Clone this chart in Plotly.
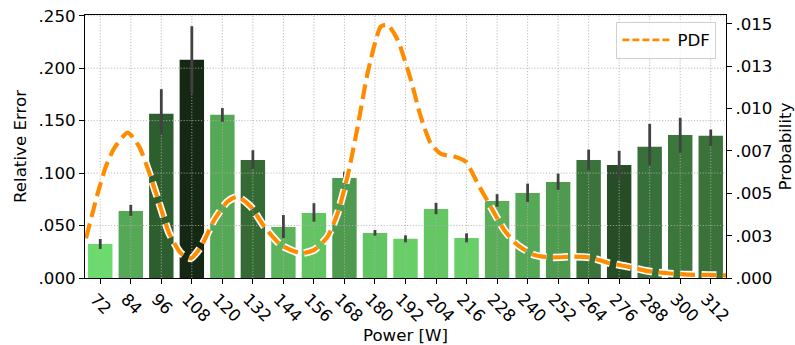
import plotly.graph_objects as go

# ---------------- data ----------------
POWER = [72, 84, 96, 108, 120, 132, 144, 156, 168, 180, 192, 204, 216, 228, 240, 252, 264, 276, 288, 300, 312]
TICK_LABELS = [str(p) for p in POWER]
REL_ERR = [0.0324, 0.0639, 0.1565, 0.2080, 0.1555, 0.1126, 0.0487, 0.0620, 0.0954, 0.0429, 0.0375,
           0.0658, 0.0382, 0.0735, 0.0811, 0.0916, 0.1126, 0.1078, 0.1250, 0.1364, 0.1355]
CI_HIGH = [0.0372, 0.0697, 0.1800, 0.2400, 0.1620, 0.1218, 0.0600, 0.0713, 0.1014, 0.0458, 0.0407,
           0.0716, 0.0426, 0.0799, 0.0900, 0.0995, 0.1224, 0.1212, 0.1469, 0.1527, 0.1415]
CI_LOW = [0.0277, 0.0592, 0.1365, 0.1756, 0.1490, 0.1040, 0.0380, 0.0537, 0.0935, 0.0404, 0.0340,
          0.0608, 0.0340, 0.0680, 0.0725, 0.0840, 0.1024, 0.0942, 0.1075, 0.1193, 0.1257]
BAR_COLORS = ["#6dda6d", "#55a855", "#2d5e2d", "#142814", "#55a855", "#356a35", "#5cb55c", "#63c463",
              "#4e9a4e", "#63c463", "#68cf68", "#64c764", "#68cf68", "#5aae5a", "#55a855", "#4e9a4e",
              "#3a743a", "#264d26", "#37703a", "#3b763b", "#3a723a"]

PDF_X = [66.4, 71, 74.2, 77.5, 82.8, 87.3, 91.3, 95.2, 99.1, 103.7, 107.6, 111.6, 116.8, 122, 126,
         131.2, 136.5, 143, 150.9, 156.1, 161.4, 165.3, 169.2, 173.2, 177.1, 182.3, 185, 188.9,
         194.1, 198, 201.9, 205.9, 211.1, 215.7, 220.3, 225.5, 230.8, 236, 242.6, 249.1, 258.3,
         264.9, 271.5, 279.3, 287.2, 295, 302.9, 310.8, 318]
PDF_Y = [0.00235, 0.0050, 0.00658, 0.00767, 0.00859, 0.00776, 0.00619, 0.00441, 0.00264, 0.00146,
         0.00116, 0.00185, 0.00343, 0.00451, 0.0048, 0.00421, 0.00303, 0.00195, 0.00146, 0.00166,
         0.00244, 0.00382, 0.00599, 0.00894, 0.0121, 0.01485, 0.01495, 0.01407, 0.0117, 0.00953,
         0.00796, 0.00733, 0.00717, 0.00687, 0.0056, 0.00421, 0.00284, 0.00195, 0.00136, 0.00122,
         0.00126, 0.0012, 0.0009, 0.00067, 0.00041, 0.00028, 0.0002, 0.00018, 0.00016]

LEFT_TICKS = [0, 0.05, 0.10, 0.15, 0.20, 0.25]
LEFT_LABELS = [".000", ".050", ".100", ".150", ".200", ".250"]
RIGHT_TICKS = [0, 0.0025, 0.005, 0.0075, 0.01, 0.0125, 0.015]
RIGHT_LABELS = [".000", ".003", ".005", ".007", ".010", ".013", ".015"]

# ---------------- style ----------------
X_RANGE = [66, 318]
Y_RANGE = [0, 0.2507]
Y2_RANGE = [0, 0.01553]
FS = 16.67
FONT = "DejaVu Sans"
ORANGE = "#ff8c00"

fig = go.Figure()

# bars
fig.add_trace(go.Bar(
    x=POWER, y=REL_ERR, width=9.6,
    marker=dict(color=BAR_COLORS, line=dict(width=0)),
    showlegend=False, hoverinfo="skip",
))

# grid lines (above bars, below error bars and PDF curve)
gx, gy = [], []
for p in POWER:
    gx += [p, p, None]
    gy += [Y_RANGE[0], Y_RANGE[1], None]
for t in LEFT_TICKS[1:]:
    gx += [X_RANGE[0], X_RANGE[1], None]
    gy += [t, t, None]
fig.add_trace(go.Scatter(x=gx, y=gy, mode="lines",
                         line=dict(color="#b0b0b0", width=0.9, dash="1.1px,1.8px"),
                         showlegend=False, hoverinfo="skip"))

# CI error bars
fig.add_trace(go.Scatter(
    x=POWER, y=REL_ERR, mode="markers",
    marker=dict(size=1, color="rgba(0,0,0,0)"),
    error_y=dict(type="data", symmetric=False,
                 array=[h - v for h, v in zip(CI_HIGH, REL_ERR)],
                 arrayminus=[v - l for l, v in zip(CI_LOW, REL_ERR)],
                 color="#424242", thickness=2.8, width=0),
    showlegend=False, hoverinfo="skip",
))

# PDF curve: white outline + orange dashed line
fig.add_trace(go.Scatter(x=PDF_X, y=PDF_Y, yaxis="y2", mode="lines",
                         line=dict(color="white", width=7.5, dash="15px,6.5px", shape="spline", smoothing=0.6),
                         showlegend=False, hoverinfo="skip"))
fig.add_trace(go.Scatter(x=PDF_X, y=PDF_Y, yaxis="y2", mode="lines",
                         line=dict(color=ORANGE, width=4.2, dash="15px,6.5px", shape="spline", smoothing=0.6),
                         showlegend=False, hoverinfo="skip"))
# legend handle
fig.add_trace(go.Scatter(x=[None], y=[None], yaxis="y2", mode="lines", name="PDF",
                         line=dict(color=ORANGE, width=2.8, dash="7px,3px")))

axis_common = dict(showline=True, linecolor="black", linewidth=1.1, ticks="outside",
                   ticklen=5, tickwidth=1.1, tickcolor="black", zeroline=False, showgrid=False,
                   automargin=False,
                   tickfont=dict(family=FONT, size=FS, color="black"))

fig.update_layout(
    width=795, height=345,
    margin=dict(l=85, r=69, t=15, b=67),
    paper_bgcolor="white", plot_bgcolor="white",
    font=dict(family=FONT, size=FS, color="black"),
    xaxis=dict(range=X_RANGE, tickmode="array", tickvals=POWER, ticktext=TICK_LABELS,
               tickangle=45, mirror=True, ticklabelshift=-5, ticklabelstandoff=-1,
               title=dict(text="Power [W]", standoff=2, font=dict(family=FONT, size=FS)),
               **axis_common),
    yaxis=dict(range=Y_RANGE, tickmode="array", tickvals=LEFT_TICKS, ticktext=LEFT_LABELS,
               mirror=False,
               title=dict(text="Relative Error", standoff=7, font=dict(family=FONT, size=FS)),
               **axis_common),
    yaxis2=dict(range=Y2_RANGE, overlaying="y", side="right", tickmode="array",
                tickvals=RIGHT_TICKS, ticktext=RIGHT_LABELS,
                title=dict(text="Probability", standoff=7, font=dict(family=FONT, size=FS)),
                **axis_common),
    legend=dict(x=0.985, y=0.975, xanchor="right", yanchor="top", itemwidth=50,
                bgcolor="rgba(255,255,255,0.8)", bordercolor="#d0d0d0", borderwidth=1,
                font=dict(family=FONT, size=FS, color="black")),
    showlegend=True,
)

fig.write_html("out.html")
